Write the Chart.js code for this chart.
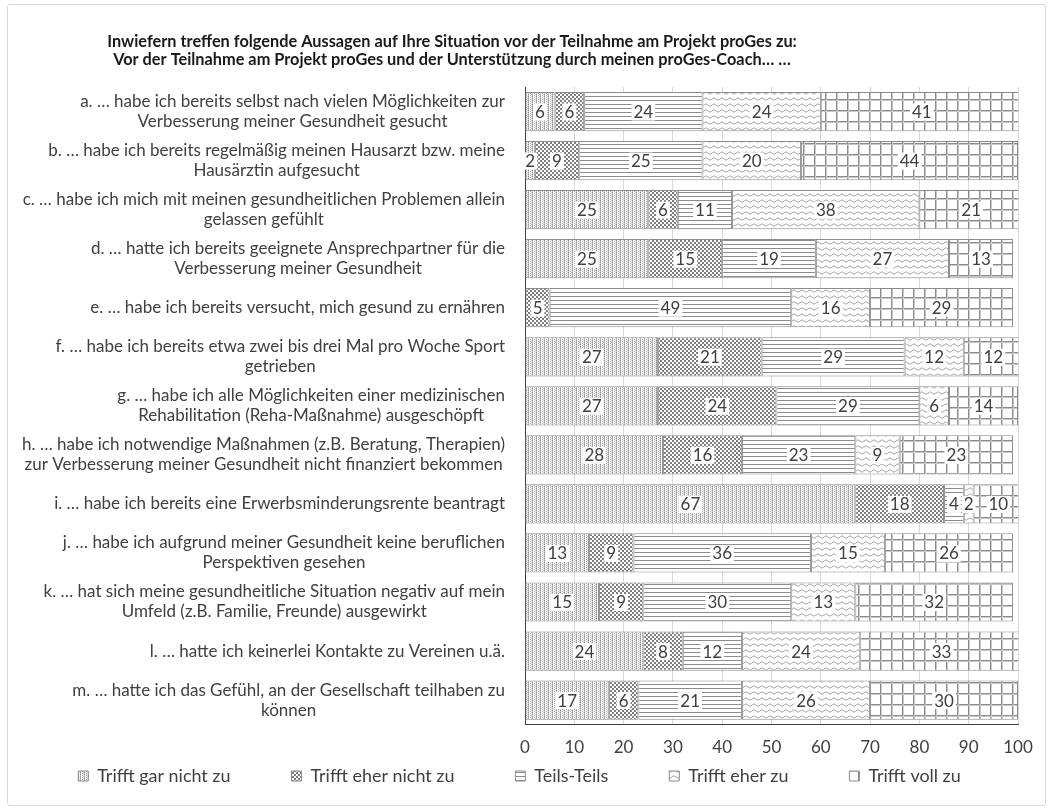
<!DOCTYPE html>
<html>
<head>
<meta charset="utf-8">
<script src="https://cdn.jsdelivr.net/npm/chart.js@4.4.1/dist/chart.umd.min.js"></script>
<style>
  html, body { margin: 0; padding: 0; background: #fff; }
  #wrap { position: relative; width: 1053px; height: 809px; }
  #frame { position: absolute; left: 7px; top: 4px; width: 1037px; height: 800px; border: 1px solid #d9d9d9; border-radius: 3px; }
  #chart { position: absolute; left: 0; top: 0; }
</style>
</head>
<body>
<div id="wrap"><div id="frame"></div><canvas id="chart" width="1053" height="809"></canvas></div>
<script>
const titleLines = [
  "Inwiefern treffen folgende Aussagen auf Ihre Situation vor der Teilnahme am Projekt proGes zu:",
  "Vor der Teilnahme am Projekt proGes und der Unterstützung durch meinen proGes-Coach… …"
];

const categories = [
  ["a. … habe ich bereits selbst nach vielen Möglichkeiten zur", "Verbesserung meiner Gesundheit gesucht"],
  ["b. … habe ich bereits regelmäßig meinen Hausarzt bzw. meine", "Hausärztin aufgesucht"],
  ["c. … habe ich mich mit meinen gesundheitlichen Problemen allein", "gelassen gefühlt"],
  ["d. … hatte ich bereits geeignete Ansprechpartner für die", "Verbesserung meiner Gesundheit"],
  ["e. … habe ich bereits versucht, mich gesund zu ernähren"],
  ["f. … habe ich bereits etwa zwei bis drei Mal pro Woche Sport", "getrieben"],
  ["g. … habe ich alle Möglichkeiten einer medizinischen", "Rehabilitation (Reha-Maßnahme) ausgeschöpft"],
  ["h. … habe ich notwendige Maßnahmen (z.B. Beratung, Therapien)", "zur Verbesserung meiner Gesundheit nicht finanziert bekommen"],
  ["i. … habe ich bereits eine Erwerbsminderungsrente beantragt"],
  ["j. … habe ich aufgrund meiner Gesundheit keine beruflichen", "Perspektiven gesehen"],
  ["k. … hat sich meine gesundheitliche Situation negativ auf mein", "Umfeld (z.B. Familie, Freunde) ausgewirkt"],
  ["l. … hatte ich keinerlei Kontakte zu Vereinen u.ä."],
  ["m. … hatte ich das Gefühl, an der Gesellschaft teilhaben zu", "können"]
];

const seriesNames = ["Trifft gar nicht zu", "Trifft eher nicht zu", "Teils-Teils", "Trifft eher zu", "Trifft voll zu"];

const garNicht  = [6, 2, 25, 25, 0, 27, 27, 28, 67, 13, 15, 24, 17];
const eherNicht = [6, 9, 6, 15, 5, 21, 24, 16, 18, 9, 9, 8, 6];
const teils     = [24, 25, 11, 19, 49, 29, 29, 23, 4, 36, 30, 12, 21];
const eherZu    = [24, 20, 38, 27, 16, 12, 6, 9, 2, 15, 13, 24, 26];
const voll      = [41, 44, 21, 13, 29, 12, 14, 23, 10, 26, 32, 33, 30];

const xTicks = [0, 10, 20, 30, 40, 50, 60, 70, 80, 90, 100];

const FAMILY = "Lato, 'Open Sans', sans-serif";
const TEXT = "#404040";

const canvas = document.getElementById("chart");
const ctx = canvas.getContext("2d");

// size fonts so the text widths come out like the Calibri original
function fitSize(text, target, weight) {
  ctx.font = `${weight} 100px ${FAMILY}`;
  return +(100 * target / ctx.measureText(text).width).toFixed(2);
}
const labelSize = fitSize(categories[0][0], 425, "normal");
const legendSize = fitSize("Trifft eher nicht zu", 144, "normal");
const titleSize = fitSize(titleLines[0], 690, "bold");

// fill patterns
function makePattern(w, h, draw) {
  const c = document.createElement("canvas");
  c.width = w; c.height = h;
  const g = c.getContext("2d");
  g.fillStyle = "#fff";
  g.fillRect(0, 0, w, h);
  draw(g);
  return ctx.createPattern(c, "repeat");
}

const patDots = makePattern(4, 2, g => {
  g.fillStyle = "#8c8c8c"; g.fillRect(0, 0, 1, 1);
  g.fillStyle = "#bfbfbf"; g.fillRect(0, 1, 1, 1);
  g.fillStyle = "#a6a6a6"; g.fillRect(2, 1, 1, 1);
  g.fillStyle = "#d0d0d0"; g.fillRect(3, 0, 1, 1);
});
const patCheck = makePattern(4, 4, g => {
  g.fillStyle = "#7f7f7f";
  g.fillRect(0, 0, 2, 2);
  g.fillRect(2, 2, 2, 2);
});
const patLines = makePattern(1, 4, g => {
  g.fillStyle = "#8c8c8c"; g.fillRect(0, 0, 1, 1);
});
const patWave = makePattern(8, 6, g => {
  g.strokeStyle = "#a6a6a6";
  g.lineWidth = 1;
  g.beginPath();
  g.moveTo(0, 3); g.quadraticCurveTo(2, 0.5, 4, 3); g.quadraticCurveTo(6, 5.5, 8, 3);
  g.stroke();
});
const patGrid = makePattern(11, 11, g => {
  g.fillStyle = "#8c8c8c";
  g.fillRect(0, 0, 11, 1);
  g.fillRect(0, 0, 1, 11);
  g.fillStyle = "#c8c8c8";
  g.fillRect(0, 1, 11, 1);
  g.fillRect(1, 0, 1, 11);
});

const seriesValues = [garNicht, eherNicht, teils, eherZu, voll];
const patterns = [patDots, patCheck, patLines, patWave, patGrid];

const datasets = seriesNames.map((name, i) => ({
  label: name,
  data: seriesValues[i],
  backgroundColor: patterns[i],
  borderColor: "#8c8c8c",
  borderWidth: 1,
  borderSkipped: false,
  categoryPercentage: 0.8,
  barPercentage: 1
}));

// move title and legend after layout
const layoutTweak = {
  id: "layoutTweak",
  afterLayout(chart) {
    const t = chart.titleBlock;
    t.left = 0; t.right = 904;
    const lg = chart.legend;
    lg.left = 0; lg.right = 1039;
    lg.top = 776 - lg.options.labels.padding - legendSize / 2;
    lg.bottom = 809;
  }
};

// category labels: block right aligned, lines centered in block
const catLabels = {
  id: "catLabels",
  afterDraw(chart) {
    const c = chart.ctx;
    const y = chart.scales.y;
    const right = chart.chartArea.left - 20;
    c.save();
    c.font = `${labelSize}px ${FAMILY}`;
    c.fillStyle = TEXT;
    c.textAlign = "center";
    c.textBaseline = "middle";
    categories.forEach((lines, i) => {
      const cy = y.getPixelForValue(i);
      const w = Math.max(...lines.map(l => c.measureText(l).width));
      const cx = right - w / 2;
      lines.forEach((l, k) => c.fillText(l, cx, cy + (k - (lines.length - 1) / 2) * 20));
    });
    c.restore();
  }
};

// value labels on white boxes
const valueLabels = {
  id: "valueLabels",
  afterDatasetsDraw(chart) {
    const c = chart.ctx;
    c.save();
    c.font = `${labelSize}px ${FAMILY}`;
    c.textAlign = "center";
    c.textBaseline = "middle";
    chart.data.datasets.forEach((ds, i) => {
      chart.getDatasetMeta(i).data.forEach((bar, j) => {
        const v = ds.data[j];
        if (!v) return;
        const p = bar.getCenterPoint();
        const t = String(v);
        const w = c.measureText(t).width;
        c.fillStyle = "#fff";
        c.fillRect(p.x - w / 2 - 2, p.y - 8, w + 4, 17);
        c.fillStyle = TEXT;
        c.fillText(t, p.x, p.y + 1);
      });
    });
    c.restore();
  }
};

new Chart(canvas, {
  type: "bar",
  data: { labels: categories.map(c => c.join(" ")), datasets },
  options: {
    indexAxis: "y",
    responsive: false,
    animation: false,
    layout: { padding: { left: 0, right: 35, top: 10, bottom: 0 } },
    scales: {
      x: {
        stacked: true,
        min: 0,
        max: 100,
        afterBuildTicks: s => { s.ticks = xTicks.map(v => ({ value: v })); },
        ticks: { color: TEXT, font: { family: FAMILY, size: labelSize }, padding: 13, maxRotation: 0 },
        grid: { color: "#d9d9d9", drawTicks: false },
        border: { color: "#404040", width: 1 }
      },
      y: {
        stacked: true,
        ticks: { display: false },
        grid: { display: false },
        border: { color: "#404040", width: 1 },
        afterFit: s => { s.width = 525; }
      }
    },
    plugins: {
      title: {
        display: true,
        text: titleLines,
        color: "#1a1a1a",
        font: { family: FAMILY, size: titleSize, weight: "bold", lineHeight: 18 / titleSize },
        padding: { top: 23, bottom: 18 }
      },
      legend: {
        position: "bottom",
        maxHeight: 38,
        labels: {
          boxWidth: 10,
          boxHeight: 10,
          padding: 61,
          color: TEXT,
          font: { family: FAMILY, size: legendSize }
        }
      },
      tooltip: { enabled: false }
    }
  },
  plugins: [layoutTweak, catLabels, valueLabels]
});
</script>
</body>
</html>
